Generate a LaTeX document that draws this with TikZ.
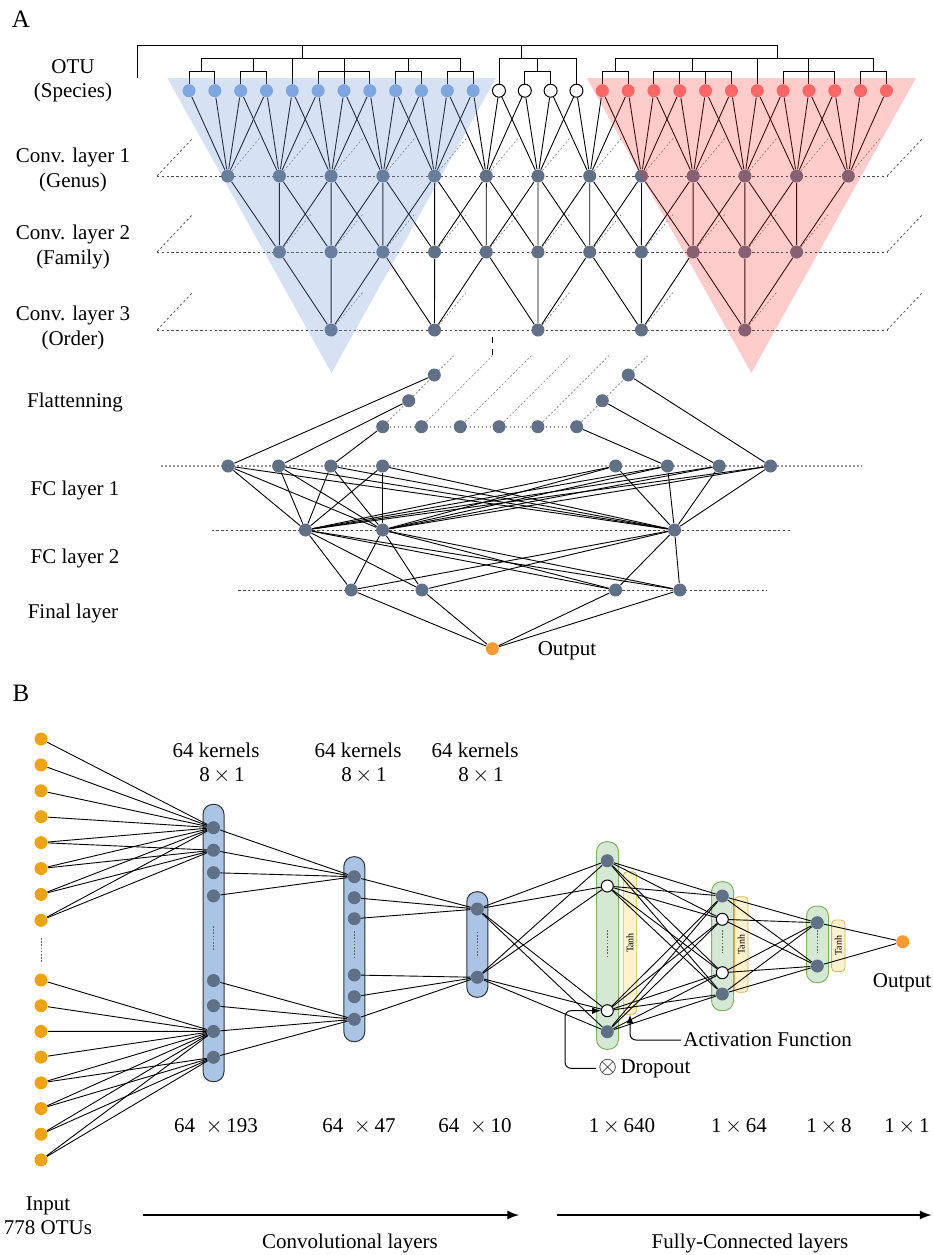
\documentclass[tikz,border=0pt]{standalone}
\usepackage{fontspec}
\usepackage{graphicx}
\setmainfont{Liberation Serif}
\usetikzlibrary{calc,positioning}
\definecolor{otublue}{RGB}{126,166,224}
\definecolor{otured}{RGB}{255,102,102}
\definecolor{neurgray}{RGB}{96,112,134}
\definecolor{inorange}{RGB}{240,163,10}
\definecolor{outorange}{RGB}{255,153,51}
\definecolor{capblue}{RGB}{169,196,228}
\definecolor{capgreen}{RGB}{213,232,212}
\definecolor{edgegreen}{RGB}{130,179,102}
\definecolor{tanhfill}{RGB}{255,242,204}
\definecolor{tanhedge}{RGB}{214,182,86}
\definecolor{veilblue}{RGB}{120,160,220}
\definecolor{veilred}{RGB}{255,51,51}
\pgfdeclarelayer{caps}
\pgfdeclarelayer{wires}
\pgfdeclarelayer{back}
\pgfdeclarelayer{veil}
\pgfsetlayers{caps,wires,back,veil,main}
\tikzset{
  unit/.style={circle, inner sep=0pt, minimum size=6.5pt},
  otub/.style={unit, fill=otublue},
  otur/.style={unit, fill=otured},
  otuw/.style={unit, draw, fill=white, line width=0.5pt},
  neur/.style={unit, fill=neurgray},
  dropn/.style={unit, draw, fill=white, line width=0.5pt, minimum size=6pt},
  inp/.style={unit, fill=inorange},
  outp/.style={unit, fill=outorange},
  wire/.style={line width=0.45pt},
  plane/.style={black!70, line width=0.35pt, dash pattern=on 1.2pt off 1.2pt},
  depth/.style={black!50, line width=0.3pt, dash pattern=on 1pt off 1pt},
  row/.style={black!40, line width=0.8pt, dash pattern=on 0.8pt off 1.2pt},
  vdots/.style={black!60, line width=0.35pt, dash pattern=on 0.8pt off 0.8pt},
  lbl/.style={font=\fontsize{10.5}{12.2}\selectfont, align=center, inner sep=1pt},
  tag/.style={font=\fontsize{12.5}{13}\selectfont, inner sep=0pt},
  capb/.style={draw=black!80, fill=capblue, line width=0.5pt, rounded corners=5pt, minimum width=10.5pt, inner sep=0pt},
  capg/.style={draw=edgegreen, fill=capgreen, line width=0.5pt, rounded corners=5pt, minimum width=11pt, inner sep=0pt},
  tanhbox/.style={draw=tanhedge, fill=tanhfill, line width=0.4pt, rounded corners=2pt, minimum width=6.7pt, inner sep=0pt, font=\fontsize{5}{5}\selectfont},
  callout/.style={line width=0.5pt, rounded corners=3pt, -latex},
  bigarrow/.style={line width=1pt, -latex}
}
\begin{document}
\begin{tikzpicture}[x=0.5pt,y=-0.5pt]
\useasboundingbox (0,0) rectangle (933,1255);

%%% panel A
\node[tag] (tagA) at (21,19) {A};
\node[lbl] (lotu) at (73,81) {OTU\\(Species)};
\node[lbl] (lc1) at (73,170) {Conv. layer 1\\(Genus)};
\node[lbl] (lc2) at (73,247) {Conv. layer 2\\(Family)};
\node[lbl] (lc3) at (73,328) {Conv. layer 3\\(Order)};
\node[lbl] (lfl) at (75,402) {Flattenning};
\node[lbl] (lf1) at (75,490) {FC layer 1};
\node[lbl] (lf2) at (75,558) {FC layer 2};
\node[lbl] (lfin) at (73,613) {Final layer};

% species row
\foreach \i in {0,...,11} \node[otub] (o\i) at ({189+25.83*\i},90.7) {};
\foreach \i in {12,...,15} \node[otuw] (o\i) at ({189+25.83*\i},90.7) {};
\foreach \i in {16,...,27} \node[otur] (o\i) at ({189+25.83*\i},90.7) {};

% conv layers
\begin{pgfonlayer}{back}
\foreach \j in {0,...,12} \node[neur] (a\j) at ({227.7+51.72*\j},176) {};
\foreach \k in {0,...,10} \node[neur] (b\k) at ({279.4+51.72*\k},252) {};
\foreach \m in {0,...,4} \node[neur] (c\m) at ({331.1+103.44*\m},330) {};
\end{pgfonlayer}

\begin{pgfonlayer}{wires}
% taxonomy tree
\coordinate (tA) at (0,45.3);
\coordinate (tB) at (0,58.5);
\coordinate (tC) at (0,71.7);
\draw[wire] (o0) |- (tC -| o1) -- (o1);
\draw[wire] (o2) |- (tC -| o3) -- (o3);
\draw[wire] (o5) |- (tC -| o7) -- (o7);
\draw[wire] (o6) -- (o6 |- tB);
\draw[wire] (o8) |- (tC -| o9) -- (o9);
\draw[wire] (o10) |- (tC -| o11) -- (o11);
\draw[wire] (o4) -- (o4 |- tB);
\draw[wire] (201.9,71.7) |- (460.2,58.5) -- (460.2,71.7);
\draw[wire] (253.6,71.7) -- (253.6,58.5);
\draw[wire] (408.6,71.7) -- (408.6,58.5);
\draw[wire] (302.3,58.5) -- (302.3,45.3);
\draw[wire] (o12) |- (tB -| o15) -- (o15);
\draw[wire] (o13) |- (tC -| o14) -- (o14);
\draw[wire] (537.7,71.7) -- (537.7,58.5);
\draw[wire] (521.7,58.5) -- (521.7,45.3);
\draw[wire] (o16) |- (tC -| o17) -- (o17);
\draw[wire] (o18) |- (tC -| o21) -- (o21);
\draw[wire] (o19) -- (o19 |- tC);
\draw[wire] (o20) -- (o20 |- tC);
\draw[wire] (o22) -- (o22 |- tB);
\draw[wire] (o23) |- (tC -| o25) -- (o25);
\draw[wire] (o24) -- (o24 |- tB);
\draw[wire] (o26) |- (tC -| o27) -- (o27);
\draw[wire] (615.2,71.7) |- (873.5,58.5) -- (873.5,71.7);
\draw[wire] (692.7,71.7) -- (692.7,58.5);
\draw[wire] (137.3,78) |- (777.3,45.3) -- (777.3,58.5);

% planes
\foreach \y in {176,252,330} {
  \draw[plane] (157,\y) -- (887,\y);
  \draw[plane] (157,\y) -- ++(36,-38);
  \draw[plane] (887,\y) -- ++(36,-38);
}
\foreach \j in {0,...,12} \draw[depth] (a\j) -- ++(32,-38);
\foreach \k in {0,...,10} \draw[depth] (b\k) -- ++(32,-38);
\foreach \m in {0,...,4} \draw[depth] (c\m) -- ++(32,-38);

% convolutions
\foreach \j in {0,...,12}
  \foreach \d in {0,...,3} {
    \pgfmathtruncatemacro\i{2*\j+\d}
    \draw[wire] (o\i) -- (a\j);
  }
\foreach \k in {0,...,10}
  \foreach \d in {0,1,2} {
    \pgfmathtruncatemacro\j{\k+\d}
    \draw[wire] (a\j) -- (b\k);
  }
\foreach \m in {0,...,4}
  \foreach \d in {0,1,2} {
    \pgfmathtruncatemacro\k{2*\m+\d}
    \draw[wire] (b\k) -- (c\m);
  }
\end{pgfonlayer}

\begin{pgfonlayer}{veil}
\fill[veilblue, opacity=0.3] (167.3,78) -- (496,78) -- (331.5,373) -- cycle;
\fill[veilred, opacity=0.25] (586.7,78) -- (916,78) -- (751.3,373) -- cycle;
\end{pgfonlayer}

% flattening
\foreach \n in {0,...,5} \node[neur] (f\n) at ({382.7+38.8*\n},426.7) {};
\node[neur] (fl1) at (408.7,400.7) {};
\node[neur] (fl2) at (434.3,375) {};
\node[neur] (fr1) at (602.3,400.7) {};
\node[neur] (fr2) at (628.3,375) {};

% fully connected
\foreach \x [count=\n from 0] in {228.1,278.6,330.8,382.6,615.6,667.4,719.2,770.5}
  \node[neur] (h\n) at (\x,466) {};
\foreach \x [count=\n from 0] in {305.4,382.6,674.5}
  \node[neur] (k\n) at (\x,530) {};
\foreach \x [count=\n from 0] in {351.3,421.9,615.6,679.9}
  \node[neur] (r\n) at (\x,590) {};
\node[outp] (out) at (492.4,648.7) {};
\node[lbl] (outtxt) at (567,651) {Output};

\begin{pgfonlayer}{wires}
\foreach \n in {0,...,5} \draw[depth] (f\n) -- ++(71,-71);
\draw[row] (f0) -- (f5);
\draw[dashed, line width=0.5pt] (492.7,337) -- (492.7,356);
\draw[wire] (fl2) -- (h0);
\draw[wire] (fl1) -- (h1);
\draw[wire] (f0) -- (h2);
\draw[wire] (f5) -- (h5);
\draw[wire] (fr1) -- (h6);
\draw[wire] (fr2) -- (h7);
\draw[row] (161,466) -- (862,466);
\draw[plane] (211.6,530) -- (790.6,530);
\draw[plane] (238.4,590) -- (767.4,590);
\foreach \p in {0,...,7}
  \foreach \q in {0,1,2} \draw[wire] (h\p) -- (k\q);
\foreach \p in {0,1,2}
  \foreach \q in {0,...,3} \draw[wire] (k\p) -- (r\q);
\foreach \q in {0,...,3} \draw[wire] (r\q) -- (out);
\end{pgfonlayer}

%%% panel B
\node[tag] (tagB) at (21,693) {B};
\foreach \n in {0,...,7} \node[inp] (x\n) at (41,{739+25.9*\n}) {};
\foreach \n in {0,...,7} \node[inp] (y\n) at (41,{980+25.71*\n}) {};
\draw[vdots] (41,938) -- (41,963);

\begin{pgfonlayer}{caps}
\node[capb, minimum height=138.7pt] (cap1) at (213.5,943) {};
\node[capb, minimum height=92.5pt] (cap2) at (354.3,949.2) {};
\node[capb, minimum height=52.8pt] (cap3) at (477.3,944.5) {};
\node[capg, minimum height=103.8pt] (cap4) at (607.5,945.5) {};
\node[capg, minimum height=64.5pt] (cap5) at (722.5,946.2) {};
\node[capg, minimum height=38.3pt] (cap6) at (817.5,944.3) {};
\node[tanhbox, minimum height=71.3pt] (th1) at (630,943) {\rotatebox{90}{Tanh}};
\node[tanhbox, minimum height=47.8pt] (th2) at (741.3,944.5) {\rotatebox{90}{Tanh}};
\node[tanhbox, minimum height=25.8pt] (th3) at (838.3,945.8) {\rotatebox{90}{Tanh}};
\end{pgfonlayer}

\foreach \y [count=\n from 0] in {827.7,850.2,872.7,895.9} \node[neur] (pa\n) at (213.5,\y) {};
\foreach \y [count=\n from 0] in {980.5,1005.7,1031.4,1057.3} \node[neur] (pb\n) at (213.5,\y) {};
\foreach \y [count=\n from 0] in {876.7,897.7,918.7} \node[neur] (qa\n) at (354.3,\y) {};
\foreach \y [count=\n from 0] in {975,996.7,1019.3} \node[neur] (qb\n) at (354.3,\y) {};
\node[neur] (sa) at (477.3,909) {};
\node[neur] (sb) at (477.3,977.3) {};
\node[neur] (fa0) at (607.3,860.7) {};
\node[dropn] (fa1) at (607.3,886) {};
\node[dropn] (fa2) at (607.3,1010.7) {};
\node[neur] (fa3) at (607.3,1031.7) {};
\node[neur] (fb0) at (722.3,896) {};
\node[dropn] (fb1) at (722.3,919.3) {};
\node[dropn] (fb2) at (722.3,972.7) {};
\node[neur] (fb3) at (722.3,994) {};
\node[neur] (fc0) at (817.3,922.7) {};
\node[neur] (fc1) at (817.3,966) {};
\node[outp] (outb) at (902.7,941.7) {};
\node[lbl] (outblbl) at (902,983) {Output};

\draw[vdots] (213.5,926) -- (213.5,950);
\draw[vdots] (354.3,931) -- (354.3,956.7);
\draw[vdots] (477.3,931.7) -- (477.3,957.3);
\draw[vdots] (607.3,930) -- (607.3,956.7);
\draw[vdots] (722.3,930) -- (722.3,953);
\draw[vdots] (817.3,930) -- (817.3,953);

\begin{pgfonlayer}{wires}
\foreach \n in {0,...,7} \draw[wire] (x\n) -- (pa0);
\foreach \n in {4,...,7} \draw[wire] (x\n) -- (pa1);
\foreach \n in {0,...,7} \draw[wire] (y\n) -- (pb2);
\foreach \n in {4,...,7} \draw[wire] (y\n) -- (pb3);
\foreach \n in {0,...,3} \draw[wire] (pa\n) -- (qa0);
\foreach \n in {0,...,3} \draw[wire] (pb\n) -- (qb2);
\foreach \n in {0,1,2} {
  \draw[wire] (qa\n) -- (sa);
  \draw[wire] (qb\n) -- (sb);
}
\foreach \n in {0,...,3} {
  \draw[wire] (sa) -- (fa\n);
  \draw[wire] (sb) -- (fa\n);
}
\foreach \p in {0,...,3}
  \foreach \q in {0,...,3} \draw[wire] (fa\p) -- (fb\q);
\foreach \p in {0,...,3}
  \foreach \q in {0,1} \draw[wire] (fb\p) -- (fc\q);
\foreach \q in {0,1} \draw[wire] (fc\q) -- (outb);
\end{pgfonlayer}

% labels
\node[lbl] (kn1) at (216,763) {64 kernels\\\hspace*{6pt}8\,$\times$\,1};
\node[lbl] (kn2) at (358,763) {64 kernels\\\hspace*{6pt}8\,$\times$\,1};
\node[lbl] (kn3) at (475,763) {64 kernels\\\hspace*{6pt}8\,$\times$\,1};
\node[lbl] (dm1) at (216,1126) {64 \ $\times$\,193};
\node[lbl] (dm2) at (359,1126) {64 \ $\times$\,47};
\node[lbl] (dm3) at (475,1126) {64 \ $\times$\,10};
\node[lbl] (dm4) at (622,1126) {1\,$\times$\,640};
\node[lbl] (dm5) at (739,1126) {1\,$\times$\,64};
\node[lbl] (dm6) at (829,1126) {1\,$\times$\,8};
\node[lbl] (dm7) at (907,1126) {1\,$\times$\,1};

\node[lbl, anchor=west] (act) at (681,1040) {Activation Function};
\draw[callout] (act.west) -| (th1.south);
\node[lbl, anchor=west] (drp) at (596,1068.3) {{\large$\otimes$}\,Dropout};
\coordinate (dk) at (565,1068.3);
\draw[callout] (drp.west) -- (dk) |- (fa2);

\node[lbl] (inlbl) at (48,1216) {Input\\778 OTUs};
\coordinate (ca) at (143,1215);
\coordinate (cb) at (519,1215);
\draw[bigarrow] (ca) -- (cb);
\node[lbl] (cl) at (350,1243) {Convolutional layers};
\coordinate (fa) at (556.5,1215);
\coordinate (fb) at (931.5,1215);
\draw[bigarrow] (fa) -- (fb);
\node[lbl] (fl) at (750,1243) {Fully-Connected layers};
\end{tikzpicture}
\end{document}
